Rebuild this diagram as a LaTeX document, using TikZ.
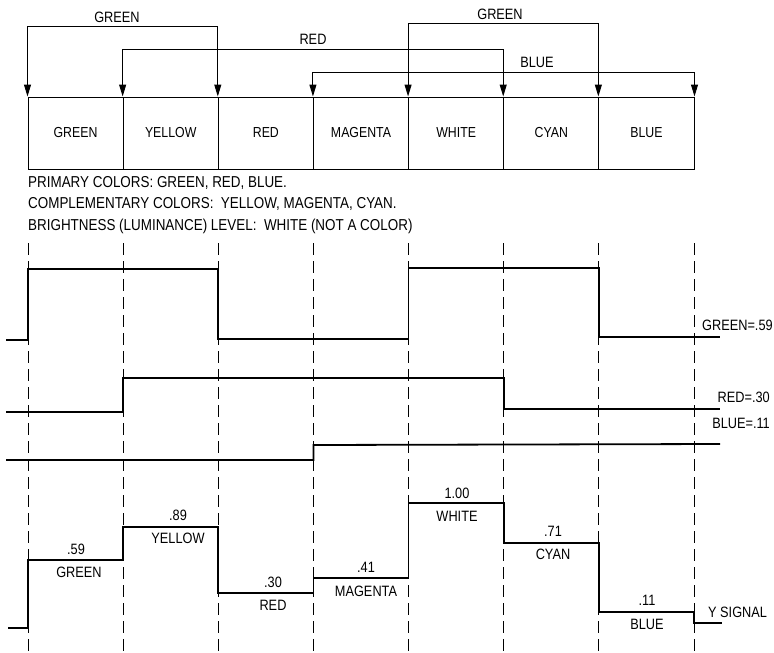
\documentclass[tikz,border=0pt]{standalone}
\usepackage{fontspec}
\setmainfont{Liberation Sans}[FakeStretch=0.85]
\usetikzlibrary{arrows.meta}
\begin{document}
\begin{tikzpicture}[x=1pt,y=-1pt,
  cbox/.style={draw,line width=1pt,minimum width=95.14pt,minimum height=72pt,inner sep=0pt,font=\fontsize{14.5}{16}\selectfont},
  arr/.style={line width=1pt,{Triangle[width=7pt,length=12pt]}-{Triangle[width=7pt,length=12pt]}},
  lbl/.style={font=\fontsize{15}{17}\selectfont,inner sep=1pt},
  txt/.style={font=\fontsize{15.8}{17}\selectfont,inner sep=1pt,anchor=west},
  wave/.style={line width=1.8pt,line join=miter},
  guide/.style={line width=1pt,dash pattern=on 12pt off 6pt}]
\useasboundingbox (0,0) rectangle (774,653);

% colour bar
\node[cbox] (b1) at (75.57,133) {GREEN};
\node[cbox] (b2) at (170.71,133) {YELLOW};
\node[cbox] (b3) at (265.86,133) {RED};
\node[cbox] (b4) at (361,133) {MAGENTA};
\node[cbox] (b5) at (456.14,133) {WHITE};
\node[cbox] (b6) at (551.29,133) {CYAN};
\node[cbox] (b7) at (646.43,133) {BLUE};

% primary colour arrows
\draw[arr] (b1.north west) -- ++(0,-70) -| (b3.north west);
\node[lbl] (lg1) at (117,17) {GREEN};
\draw[arr] (b2.north west) -- ++(0,-47) -| (b6.north west);
\node[lbl] (lr) at (313,39) {RED};
\draw[arr] (b4.north west) -- ++(0,-24) -| (b7.north east);
\node[lbl] (lb) at (537,62) {BLUE};
\draw[arr] (b5.north west) -- ++(0,-73) -| (b7.north west);
\node[lbl] (lg2) at (500,14) {GREEN};

% notes
\node[txt] (t1) at (27,183) {PRIMARY COLORS: GREEN, RED, BLUE.};
\node[txt] (t2) at (27,204) {COMPLEMENTARY COLORS:\ \ YELLOW, MAGENTA, CYAN.};
\node[txt] (t3) at (27,226) {BRIGHTNESS (LUMINANCE) LEVEL:\ \ WHITE (NOT A COLOR)};

% dashed guides
\foreach \x in {28,123.14,218.28,313.43,408.57,503.71,598.86,694}
  \draw[guide] (\x,243) -- (\x,653);

% green
\draw[wave] (6,340) -- (28,340) -- (28,269) -- (218.28,269) -- (218.28,339) -- (408.57,339) -- (408.57,268) -- (598.86,268) -- (598.86,337) -- (720,337);
\node[lbl,anchor=west] (lgv) at (701,325) {GREEN=.59};
% red
\draw[wave] (6,412) -- (123.14,412) -- (123.14,378) -- (503.71,378) -- (503.71,409) -- (720,409);
\node[lbl,anchor=east] (lrv) at (771,397) {RED=.30};
% blue
\draw[wave] (6,460) -- (313.43,460) -- (313.43,445) -- (720,444);
\node[lbl,anchor=east] (lbv) at (771,423) {BLUE=.11};

% Y signal
\draw[wave] (8,628) -- (28,628) -- (28,560) -- (123.14,560) -- (123.14,527) -- (218.28,527) -- (218.28,593) -- (313.43,593) -- (313.43,578) -- (408.57,578) -- (408.57,503) -- (503.71,503) -- (503.71,543) -- (598.86,543) -- (598.86,612) -- (694,612) -- (694,623) -- (722,623);
\node[lbl] (v1) at (76,549) {.59};
\node[lbl] (n1) at (79,572) {GREEN};
\node[lbl] (v2) at (178,515) {.89};
\node[lbl] (n2) at (178,538) {YELLOW};
\node[lbl] (v3) at (273,582) {.30};
\node[lbl] (n3) at (273,605) {RED};
\node[lbl] (v4) at (366,567) {.41};
\node[lbl] (n4) at (366,591) {MAGENTA};
\node[lbl] (v5) at (457,493) {1.00};
\node[lbl] (n5) at (457,516) {WHITE};
\node[lbl] (v6) at (553,531) {.71};
\node[lbl] (n6) at (553,554) {CYAN};
\node[lbl] (v7) at (647,600) {.11};
\node[lbl] (n7) at (647,624) {BLUE};
\node[lbl,anchor=west] (ys) at (707,612) {Y SIGNAL};
\end{tikzpicture}
\end{document}
